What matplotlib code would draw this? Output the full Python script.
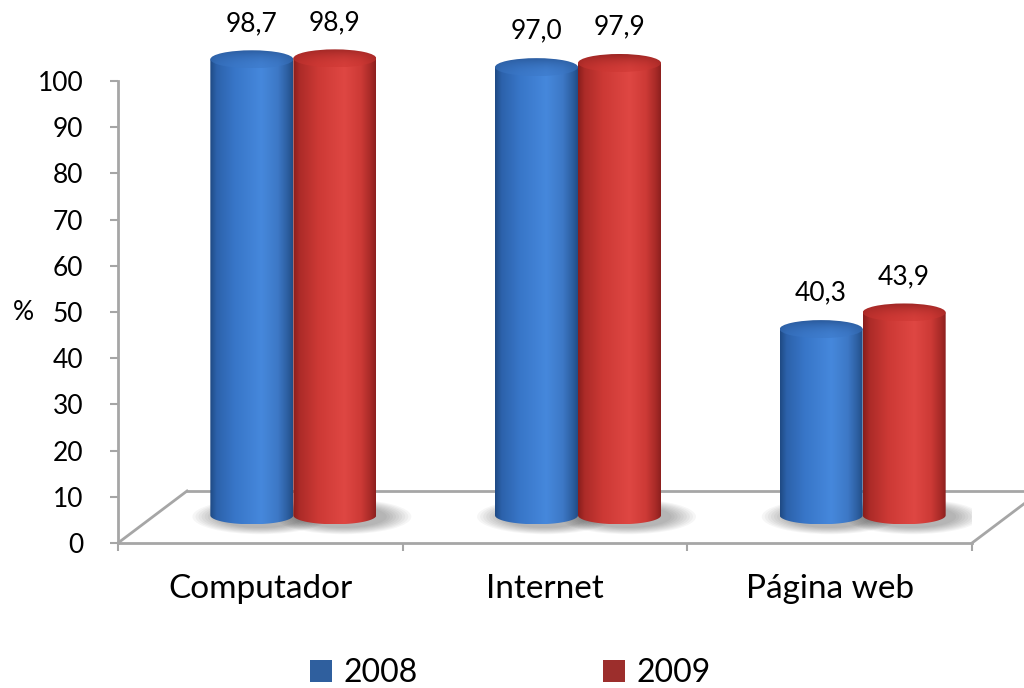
import numpy as np
import matplotlib
matplotlib.use('Agg')
import matplotlib.pyplot as plt
from matplotlib.path import Path
from matplotlib.patches import PathPatch, Ellipse, Patch
from matplotlib.colors import to_rgb

# ---- data ----
categories = ['Computador', 'Internet', 'Página web']
years = ['2008', '2009']
values_2008 = [98.7, 97.0, 40.3]
values_2009 = [98.9, 97.9, 43.9]
yticks = list(range(0, 101, 10))

plt.rcParams['font.family'] = ['Lato', 'DejaVu Sans']

fig = plt.figure(figsize=(10.24, 6.88), dpi=100)
ax = fig.add_axes([118/1024, (688-543)/688, 854/1024, 462/688])

PXX = 3.0/854
PXY = 100.0/462
DX, DY = 33*PXX, 6.0          # mid-depth offset
FX, FY = 69*PXX, 52*PXY       # full floor depth
W = 83*PXX
RY = 9*PXY

blue_stops = [(0, '#1f4a84'), (0.08, '#2c62ab'), (0.3, '#3876c8'), (0.62, '#4688dc'),
              (0.82, '#3d78c6'), (0.94, '#2c5e9f'), (1, '#224c86')]
red_stops = [(0, '#881e1c'), (0.08, '#ac2b28'), (0.3, '#cc3935'), (0.62, '#df4743'),
             (0.82, '#cd3a36'), (0.94, '#a72a27'), (1, '#8c201e')]
blue_top = ('#2a5a9c', '#3b77c6')
red_top = ('#9c2624', '#cc3632')
legend_colors = ['#2f5f9e', '#9c2e2c']


def grad(stops, n=256):
    t = np.linspace(0, 1, n)
    ts = [s[0] for s in stops]
    cs = np.array([to_rgb(s[1]) for s in stops])
    return np.stack([np.interp(t, ts, cs[:, k]) for k in range(3)], axis=-1)


def draw_cyl(xc, value, stops, top):
    x0, x1 = xc - W/2, xc + W/2
    yb, yt = DY, DY + value
    # shadow
    for k in range(9):
        s = 1 + 0.07*k
        ax.add_patch(Ellipse((xc + 0.03, yb - 0.3), W*s*1.05, 2*RY*s*1.25,
                             facecolor='black', edgecolor='none', alpha=0.035, zorder=2))
    th = np.linspace(np.pi, 2*np.pi, 80)
    verts = [(x0, yt)] + list(zip(xc + W/2*np.cos(th), yb + RY*np.sin(th))) + [(x1, yt), (x0, yt)]
    codes = [Path.MOVETO] + [Path.LINETO]*(len(verts)-2) + [Path.CLOSEPOLY]
    body = PathPatch(Path(verts, codes), facecolor='none', edgecolor='none',
                     transform=ax.transData, clip_on=False)
    ax.add_patch(body)
    img = grad(stops)[None, :, :]
    im = ax.imshow(img, extent=[x0, x1, yb - RY, yt], aspect='auto',
                   interpolation='bilinear', zorder=3)
    im.set_clip_box(fig.bbox)
    im.set_clip_path(body)
    # top ellipse
    ell = Ellipse((xc, yt), W, 2*RY, facecolor='none', edgecolor='none',
                  transform=ax.transData, clip_on=False)
    ax.add_patch(ell)
    h = grad(stops)
    mid = np.array(to_rgb(top[1]))
    back = np.array(to_rgb(top[0]))
    v = np.linspace(0, 1, 64)[:, None, None]
    soft = 0.55*mid + 0.45*h[None, :, :]
    timg = back*(1 - v)**2 + soft*(1 - (1 - v)**2)
    im2 = ax.imshow(np.clip(timg, 0, 1), extent=[x0, x1, yt - RY, yt + RY], aspect='auto',
                    interpolation='bilinear', zorder=4, origin='upper')
    im2.set_clip_box(fig.bbox)
    im2.set_clip_path(ell)
    return yt


series = [(values_2008, blue_stops, blue_top, -W/2),
          (values_2009, red_stops, red_top, W/2)]
for vals, stops, top, off in series:
    for i, v in enumerate(vals):
        xc = i + DX + off
        yt = draw_cyl(xc, v, stops, top)
        ax.annotate(f'{v:.1f}'.replace('.', ','), xy=(xc, yt + RY), xytext=(0, 14),
                    textcoords='offset points', ha='center', va='baseline',
                    fontsize=19, color='black', annotation_clip=False)

# floor
gray = '#a6a6a6'
ax.plot([-0.5, -0.5 + FX], [0, FY], color=gray, lw=2, clip_on=False, zorder=1)
ax.plot([-0.5 + FX, 3.2], [FY, FY], color=gray, lw=2, clip_on=False, zorder=1)
ax.plot([2.5, 2.5 + FX], [0, FY], color=gray, lw=2, clip_on=False, zorder=1)

ax.set_xlim(-0.5, 2.5)
ax.set_ylim(0, 100)
ax.set_autoscale_on(False)

for s in ['top', 'right']:
    ax.spines[s].set_visible(False)
for s in ['left', 'bottom']:
    ax.spines[s].set_color(gray)
    ax.spines[s].set_linewidth(2)

ax.set_yticks(yticks)
ax.tick_params(axis='y', length=6, width=1.5, color=gray, labelsize=19, pad=19)
ax.set_xticks([-0.5, 0.5, 1.5, 2.5])
ax.set_xticklabels([])
ax.tick_params(axis='x', which='major', length=6, width=1.5, color=gray)
ax.set_xticks([0, 1, 2], minor=True)
ax.set_xticklabels(categories, minor=True)
ax.tick_params(axis='x', which='minor', length=0, labelsize=24, pad=22)
ax.set_ylabel('%', rotation=0, fontsize=19, va='center', ha='center')
ax.yaxis.set_label_coords(-95/854, 230/462)

handles = [Patch(facecolor=c, edgecolor='none') for c in legend_colors]
fig.legend(handles, years, loc='center', bbox_to_anchor=(510/1024, 15/688), ncol=2,
           frameon=False, fontsize=23, handlelength=0.7, handleheight=0.7,
           handletextpad=0.35, columnspacing=5.8, borderpad=0)

fig.savefig('out.png', dpi=100)
